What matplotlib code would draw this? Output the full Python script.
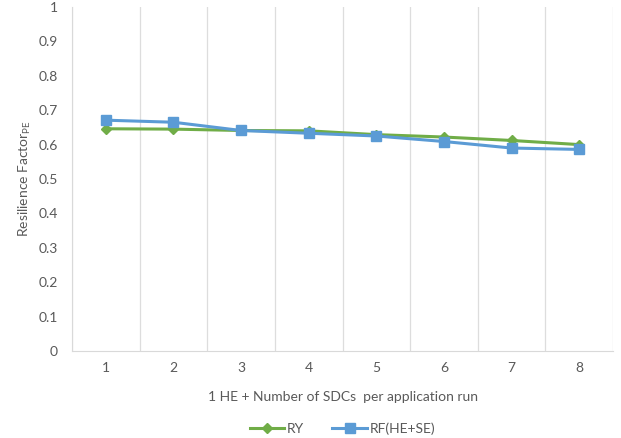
import matplotlib
matplotlib.use("Agg")
import matplotlib.pyplot as plt
import numpy as np

categories = ["1", "2", "3", "4", "5", "6", "7", "8"]
ry = [0.646, 0.645, 0.641, 0.640, 0.629, 0.622, 0.612, 0.600]
rf = [0.671, 0.665, 0.641, 0.633, 0.625, 0.609, 0.590, 0.586]

plt.rcParams["font.family"] = ["Lato", "DejaVu Sans"]
txt = "#595959"

fig = plt.figure(figsize=(6.21, 4.38), dpi=100)
ax = fig.add_axes([72 / 621, 87 / 438, 541 / 621, 344 / 438])

x = np.arange(len(categories))
ax.plot(x, ry, color="#70AD47", lw=2.2, marker="D", ms=5, label="RY", zorder=3)
ax.plot(x, rf, color="#5B9BD5", lw=2.2, marker="s", ms=7, label="RF(HE+SE)", zorder=4)

ax.set_xlim(-0.5, len(categories) - 0.5)
ax.set_ylim(0, 1)
ax.set_xticks(x)
ax.set_xticklabels(categories)
ax.set_yticks(np.arange(0, 1.01, 0.1))
ax.set_yticklabels(["0"] + [f"{v:.1f}" for v in np.arange(0.1, 0.95, 0.1)] + ["1"])
ax.set_xticks(np.arange(-0.5, len(categories)), minor=True)
ax.grid(True, axis="x", which="minor", color="#DDDDDD", lw=0.9)
ax.tick_params(which="both", length=0, colors=txt, labelsize=10)
ax.tick_params(axis="y", pad=10)
ax.tick_params(axis="x", pad=8)
for s in ["top", "right"]:
    ax.spines[s].set_visible(False)
for s in ["left", "bottom"]:
    ax.spines[s].set_color("#D9D9D9")

ax.set_xlabel("1 HE + Number of SDCs  per application run", color=txt, fontsize=10, labelpad=12)
ax.set_ylabel("Resilience Factor$_{\\mathregular{PE}}$", color=txt, fontsize=10, labelpad=4)

ax.legend(loc="upper center", bbox_to_anchor=(0.5, -0.17), ncol=2, frameon=False,
          fontsize=10, labelcolor=txt, handlelength=2.5, columnspacing=2, handletextpad=0.2)

fig.savefig("out.png", dpi=100)
